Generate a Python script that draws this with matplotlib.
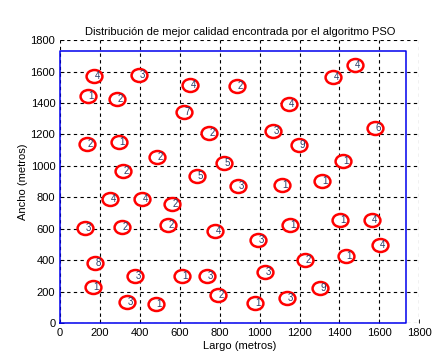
import matplotlib
matplotlib.use("Agg")
import matplotlib.pyplot as plt
from matplotlib.path import Path

plt.rcParams['font.family'] = ['Liberation Sans', 'DejaVu Sans']

# positions (metros) and count inside each circle
largo = [170, 396, 651, 887, 140, 286, 621, 746, 135, 296,
         486, 822, 316, 686, 1478, 1368, 1147, 1578, 1067, 1197,
         1418, 892, 251, 411, 561, 125, 311, 541, 777, 175,
         376, 611, 736, 165, 792, 336, 481, 1112, 1313, 1403,
         1563, 1152, 992, 1603, 1227, 1433, 1027, 1303, 1137, 977]
ancho = [1571, 1577, 1514, 1507, 1444, 1425, 1342, 1208, 1138, 1151,
         1056, 1018, 967, 935, 1641, 1565, 1393, 1240, 1221, 1132,
         1030, 871, 789, 789, 757, 604, 611, 623, 585, 382,
         299, 299, 299, 229, 178, 134, 121, 878, 903, 655,
         655, 623, 528, 496, 401, 426, 324, 223, 159, 127]
etiquetas = ["4", "3", "4", "2", "1", "2", "7", "2", "2", "1",
             "2", "5", "2", "5", "4", "4", "4", "6", "3", "9",
             "1", "3", "4", "4", "2", "3", "2", "2", "4", "8",
             "3", "1", "3", "1", "2", "3", "1", "1", "1", "1",
             "4", "1", "3", "4", "2", "1", "3", "9", "3", "1"]

lado = 1732  # terreno cuadrado
ticks = [0, 200, 400, 600, 800, 1000, 1200, 1400, 1600, 1800]

# circulo algo achatado, como los trazos a mano
c = Path.unit_circle()
elipse = Path(c.vertices * [1.0, 0.82], c.codes)

fig = plt.figure(figsize=(4.39, 3.61), dpi=100)
ax = fig.add_axes([0.137, 0.105, 0.818, 0.784])

ax.set_xlim(0, 1800)
ax.set_ylim(0, 1800)
ax.set_xticks(ticks)
ax.set_yticks(ticks)
ax.tick_params(labelsize=8, direction='in', length=3, width=0.6)
ax.grid(True, color='black', linestyle=(0, (3, 3)), linewidth=0.8)
for s in ax.spines.values():
    s.set_visible(False)

# borde del terreno
ax.plot([0, lado, lado, 0, 0], [0, 0, lado, lado, 0], color='#0000ee',
        linewidth=1.1, clip_on=False, zorder=3)

ax.scatter(largo, ancho, s=130, marker=elipse, facecolors='white',
           edgecolors='red', linewidths=1.8, zorder=4)
for x, y, t in zip(largo, ancho, etiquetas):
    ax.text(x + 15, y, t, fontsize=7, color='#2a3f6a', ha='center',
            va='center', zorder=5)

ax.set_title("Distribución de mejor calidad encontrada por el algoritmo PSO",
             fontsize=8, pad=4)
ax.set_xlabel("Largo (metros)", fontsize=8, labelpad=2)
ax.set_ylabel("Ancho (metros)", fontsize=8, labelpad=2)

fig.savefig("out.png", dpi=100)
